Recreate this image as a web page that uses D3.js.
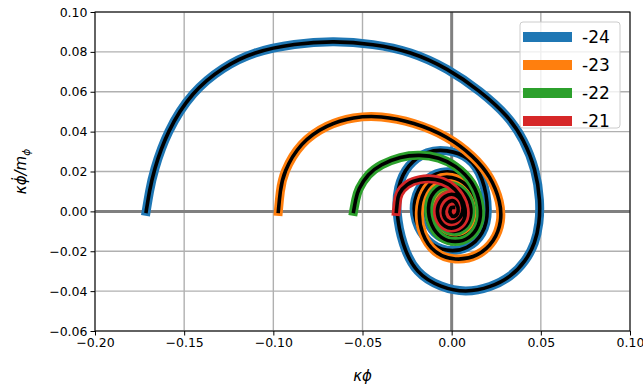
<!DOCTYPE html>
<html>
<head>
<meta charset="utf-8">
<script src="https://cdn.jsdelivr.net/npm/d3@7"></script>
<style>
  body { margin: 0; background: #fff; }
  svg { display: block; font-family: "DejaVu Sans", sans-serif; }
</style>
</head>
<body>
<svg width="643" height="388"></svg>
<script>
// series names (legend) and colours
var names = ["-24", "-23", "-22", "-21"];
var colors = ["#1f77b4", "#ff7f0e", "#2ca02c", "#d62728"];

// tick labels
var xTicks = [-0.20, -0.15, -0.10, -0.05, 0.00, 0.05, 0.10];
var yTicks = [-0.06, -0.04, -0.02, 0.00, 0.02, 0.04, 0.06, 0.08, 0.10];

// [kappa*phi, kappa*phidot/m] points
var blue = [
  [-0.1713, 0.000], [-0.1695, 0.010], [-0.1672, 0.020], [-0.1597, 0.040], [-0.1457, 0.060],
  [-0.128, 0.0725], [-0.1112, 0.080], [-0.088, 0.0842], [-0.066, 0.0855], [-0.044, 0.0840],
  [-0.023, 0.0802], [-0.0022, 0.0717], [0.0163, 0.0602], [0.0315, 0.0480], [0.0404, 0.0362],
  [0.0472, 0.0210], [0.0497, 0.005], [0.0492, -0.006], [0.0468, -0.0160], [0.0415, -0.0250],
  [0.0330, -0.0330], [0.022, -0.0380], [0.008, -0.0408], [-0.006, -0.0382], [-0.020, -0.0312],
  [-0.0278, -0.0167], [-0.0312, 0.000], [-0.0305, 0.012], [-0.0249, 0.0236], [-0.0135, 0.0305],
  [-0.003, 0.031], [0.010, 0.0275], [0.0178, 0.017], [0.021, 0.000], [0.018, -0.0115],
  [0.009, -0.019], [-0.003, -0.0205], [-0.014, -0.0155], [-0.021, -0.005], [-0.0215, 0.006],
  [-0.016, 0.0155], [-0.006, 0.0205], [0.005, 0.0195], [0.013, 0.0125], [0.0165, 0.002],
  [0.0145, -0.007], [0.007, -0.0135], [-0.002, -0.015], [-0.010, -0.0115], [-0.015, -0.003],
  [-0.014, 0.006], [-0.008, 0.0125], [0.000, 0.015], [0.007, 0.0125], [0.012, 0.005],
  [0.0125, -0.003], [0.008, -0.0095], [0.001, -0.0115], [-0.006, -0.0085], [-0.010, -0.002],
  [-0.0095, 0.005], [-0.004, 0.0095], [0.002, 0.010], [0.0075, 0.006], [0.0085, 0.000],
  [0.005, -0.0055], [0.000, -0.0065], [-0.0045, -0.003], [-0.0055, 0.002], [-0.002, 0.0055],
  [0.002, 0.0055], [0.0045, 0.002], [0.003, -0.001], [0.001, 0.001]
];
var orange = [
  [-0.0972, 0.000], [-0.0962, 0.010], [-0.0944, 0.0194], [-0.085, 0.0345], [-0.070, 0.0435],
  [-0.055, 0.0474], [-0.040, 0.0480], [-0.0213, 0.0447], [-0.0022, 0.0377], [0.0124, 0.0276],
  [0.0219, 0.0175], [0.0275, 0.0045], [0.0280, -0.005], [0.0242, -0.0150], [0.0146, -0.0228],
  [0.002, -0.0248], [-0.010, -0.0212], [-0.0172, -0.011], [-0.0188, 0.000], [-0.0162, 0.0102],
  [-0.009, 0.0168], [0.000, 0.0178], [0.009, 0.0138], [0.0148, 0.005], [0.0153, -0.004],
  [0.0112, -0.0112], [0.003, -0.0143], [-0.006, -0.0123], [-0.0123, -0.005], [-0.0128, 0.004],
  [-0.008, 0.0112], [0.000, 0.0133], [0.007, 0.0102], [0.0107, 0.003], [0.0097, -0.005],
  [0.004, -0.0093], [-0.003, -0.0093], [-0.0082, -0.004], [-0.0082, 0.003], [-0.004, 0.0082],
  [0.002, 0.0092], [0.0062, 0.005], [0.0072, -0.001], [0.004, -0.0052], [-0.001, -0.0062],
  [-0.0042, -0.002], [-0.0042, 0.003], [-0.001, 0.0052], [0.002, 0.0042], [0.003, 0.001]
];
var green = [
  [-0.055, 0.000], [-0.0538, 0.006], [-0.0525, 0.011], [-0.047, 0.0187], [-0.0399, 0.0235],
  [-0.0287, 0.0275], [-0.018, 0.0285], [-0.007, 0.0271], [0.002, 0.0232], [0.0124, 0.0147],
  [0.0168, 0.002], [0.0158, -0.0072], [0.010, -0.0138], [0.002, -0.0158], [-0.006, -0.0138],
  [-0.0118, -0.0072], [-0.0138, 0.002], [-0.0108, 0.0102], [-0.003, 0.0138], [0.005, 0.0122],
  [0.0108, 0.005], [0.0112, -0.003], [0.0072, -0.0092], [0.000, -0.0108], [-0.0062, -0.0072],
  [-0.0088, 0.000], [-0.0062, 0.0072], [0.000, 0.0092], [0.0052, 0.0072], [0.0077, 0.001],
  [0.0052, -0.0052], [0.000, -0.0067], [-0.0042, -0.003], [-0.0047, 0.002], [-0.001, 0.0052],
  [0.002, 0.0042], [0.003, 0.001], [0.001, 0.0005]
];
var red = [
  [-0.031, 0.000], [-0.0305, 0.0045], [-0.030, 0.0088], [-0.0255, 0.0138], [-0.018, 0.0163],
  [-0.009, 0.0165], [-0.001, 0.0138], [0.005, 0.0082], [0.0082, 0.001], [0.0072, -0.0052],
  [0.002, -0.0088], [-0.004, -0.0082], [-0.0082, -0.003], [-0.0082, 0.003], [-0.004, 0.0082],
  [0.002, 0.0092], [0.0062, 0.005], [0.0067, -0.001], [0.003, -0.0052], [-0.002, -0.0057],
  [-0.0052, -0.002], [-0.0042, 0.003], [0.000, 0.0062], [0.003, 0.0042], [0.0042, 0.000],
  [0.002, -0.003], [-0.001, -0.002], [-0.001, 0.002], [0.001, 0.002]
];
var series = [blue, orange, green, red];

var svg = d3.select("svg");
var margin = {top: 12, right: 13, bottom: 57, left: 95};
var width = 643 - margin.left - margin.right;
var height = 388 - margin.top - margin.bottom;

var g = svg.append("g")
    .attr("transform", "translate(" + margin.left + "," + margin.top + ")");

var x = d3.scaleLinear().domain([-0.2, 0.1]).range([0, width]);
var y = d3.scaleLinear().domain([-0.06, 0.1]).range([height, 0]);

svg.append("defs").append("clipPath").attr("id", "clip")
    .append("rect").attr("width", width).attr("height", height);

// grid
g.append("g").selectAll("line").data(xTicks).enter().append("line")
    .attr("x1", function(d) { return x(d); }).attr("x2", function(d) { return x(d); })
    .attr("y1", 0).attr("y2", height)
    .attr("stroke", "#b0b0b0").attr("stroke-width", 1.4);
g.append("g").selectAll("line").data(yTicks).enter().append("line")
    .attr("y1", function(d) { return y(d); }).attr("y2", function(d) { return y(d); })
    .attr("x1", 0).attr("x2", width)
    .attr("stroke", "#b0b0b0").attr("stroke-width", 1.4);

// zero lines
g.append("line").attr("x1", x(0)).attr("x2", x(0)).attr("y1", 0).attr("y2", height)
    .attr("stroke", "#808080").attr("stroke-width", 3);
g.append("line").attr("y1", y(0)).attr("y2", y(0)).attr("x1", 0).attr("x2", width)
    .attr("stroke", "#808080").attr("stroke-width", 3);

var line = d3.line()
    .x(function(d) { return x(d[0]); })
    .y(function(d) { return y(d[1]); })
    .curve(d3.curveBasis);

var curves = g.append("g").attr("clip-path", "url(#clip)");
series.forEach(function(s, i) {
    curves.append("path").attr("d", line(s))
        .attr("fill", "none").attr("stroke", colors[i])
        .attr("stroke-width", 9).attr("stroke-linecap", "square")
        .attr("stroke-linejoin", "round");
    curves.append("path").attr("d", line(s))
        .attr("fill", "none").attr("stroke", "#000")
        .attr("stroke-width", 3.6).attr("stroke-linecap", "square")
        .attr("stroke-linejoin", "round");
});

// axes
var fmt = function(d) { return d3.format(".2f")(d).replace("-", "\u2212"); };
var xAxis = g.append("g").attr("transform", "translate(0," + height + ")")
    .call(d3.axisBottom(x).tickValues(xTicks).tickFormat(fmt).tickSize(4.5).tickPadding(3));
var yAxis = g.append("g")
    .call(d3.axisLeft(y).tickValues(yTicks).tickFormat(fmt).tickSize(4.5).tickPadding(3));
[xAxis, yAxis].forEach(function(a) {
    a.attr("font-family", "DejaVu Sans").attr("font-size", 12.5);
    a.selectAll("text").attr("fill", "#000");
    a.selectAll("line").attr("stroke", "#000").attr("stroke-width", 1);
    a.select(".domain").remove();
});

// frame
g.append("rect").attr("width", width).attr("height", height)
    .attr("fill", "none").attr("stroke", "#000").attr("stroke-width", 1);

// axis labels
svg.append("text")
    .attr("x", margin.left + width / 2).attr("y", 381)
    .attr("text-anchor", "middle").attr("font-size", 15).attr("font-style", "italic")
    .text("\u03BA\u03D5");
var yl = svg.append("text")
    .attr("transform", "translate(26," + (margin.top + height / 2) + ") rotate(-90)")
    .attr("text-anchor", "middle").attr("font-size", 15).attr("font-style", "italic");
yl.append("tspan").text("\u03BA\u03D5\u0307/m");
yl.append("tspan").attr("font-size", 10.5).attr("dy", 4).text("\u03D5");

// legend
var lg = svg.append("g").attr("transform", "translate(520,22)");
lg.append("rect").attr("width", 100).attr("height", 106).attr("rx", 3)
    .attr("fill", "#fff").attr("fill-opacity", 0.8)
    .attr("stroke", "#cccccc").attr("stroke-width", 1);
names.forEach(function(n, i) {
    var yy = 15 + i * 28;
    lg.append("line").attr("x1", 3).attr("x2", 52).attr("y1", yy).attr("y2", yy)
        .attr("stroke", colors[i]).attr("stroke-width", 10);
    lg.append("text").attr("x", 62).attr("y", yy + 6)
        .attr("font-size", 17).attr("fill", "#000").text(n);
});
</script>
</body>
</html>
